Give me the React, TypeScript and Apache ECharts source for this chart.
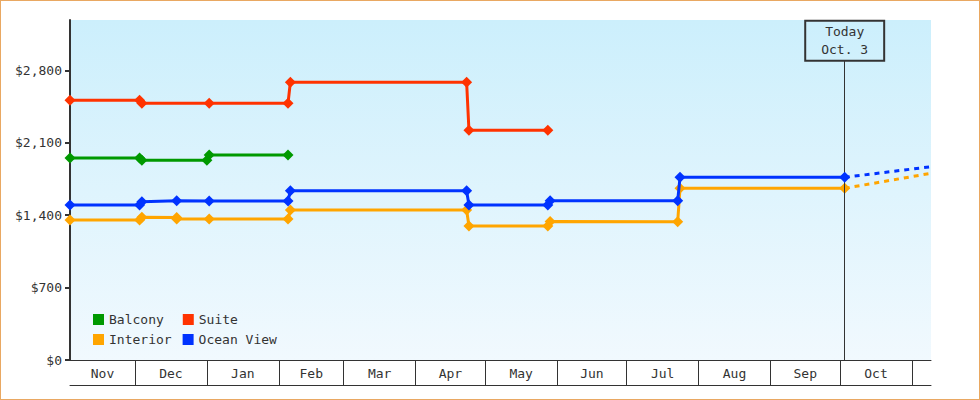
import React, { useEffect, useRef } from 'react';
import * as echarts from 'echarts';

// ---- data ----
const monthStarts = ['2022-11-01', '2022-12-01', '2023-01-01', '2023-02-01', '2023-03-01', '2023-04-01', '2023-05-01', '2023-06-01', '2023-07-01', '2023-08-01', '2023-09-01', '2023-10-01', '2023-11-01'];
const monthLabels = ['Nov', 'Dec', 'Jan', 'Feb', 'Mar', 'Apr', 'May', 'Jun', 'Jul', 'Aug', 'Sep', 'Oct'];
const axisStart = '2022-11-03';
const axisEnd = '2023-11-09T05';
const yTicks = [0, 700, 1400, 2100, 2800];
const yMax = 3287;

const balconyDates = ['2022-11-03', '2022-12-03', '2022-12-04', '2023-01-01', '2023-01-02', '2023-02-05'];
const balconyPrices = [1953, 1953, 1931, 1931, 1982, 1982];

const suiteDates = ['2022-11-03', '2022-12-03', '2022-12-04', '2023-01-02', '2023-02-05', '2023-02-06', '2023-04-23', '2023-04-24', '2023-05-28'];
const suitePrices = [2510, 2510, 2482, 2482, 2482, 2685, 2685, 2221, 2221];

const interiorDates = ['2022-11-03', '2022-12-03', '2022-12-04', '2022-12-19', '2022-12-19', '2023-01-02', '2023-02-05', '2023-02-06', '2023-04-23', '2023-04-24', '2023-05-28', '2023-05-29', '2023-07-23', '2023-07-24', '2023-10-03'];
const interiorPrices = [1354, 1354, 1380, 1377, 1363, 1363, 1363, 1450, 1450, 1296, 1296, 1340, 1337, 1660, 1660];

const oceanDates = ['2022-11-03', '2022-12-03', '2022-12-04', '2022-12-19', '2023-01-02', '2023-02-05', '2023-02-06', '2023-04-23', '2023-04-24', '2023-05-28', '2023-05-29', '2023-07-23', '2023-07-24', '2023-10-03'];
const oceanPrices = [1499, 1499, 1531, 1540, 1537, 1537, 1637, 1637, 1499, 1499, 1540, 1540, 1766, 1766];

const forecastDates = ['2023-10-03', '2023-11-09T05'];
const interiorForecast = [1660, 1805];
const oceanForecast = [1766, 1869];

const todayDate = '2023-10-03';
const todayText = 'Today\nOct. 3';
const todayBoxBottomValue = 2894;

// ---- helpers ----
const toTs = (s: string) => {
  const [d, t] = s.split('T');
  const [y, m, dd] = d.split('-').map(Number);
  const h = t ? Number(t.split(':')[0]) : 0;
  return Date.UTC(y, m - 1, dd, h);
};
const pairs = (dates: string[], vals: number[]) => dates.map((d, i) => [toTs(d), vals[i]]);

const FONT = 'DejaVu Sans Mono';
const INK = '#333333';
const COLORS = { balcony: '#009900', suite: '#ff3300', interior: '#ffa500', ocean: '#0033ff' };

export default function App() {
  const ref = useRef<HTMLDivElement>(null);

  useEffect(() => {
    if (!ref.current) return;
    const chart = echarts.init(ref.current, undefined, { renderer: 'svg' });
    const xMin = toTs(axisStart);
    const xMax = toTs(axisEnd);
    const starts = monthStarts.map(toTs);
    const tickVals = starts.filter((v) => v > xMin && v <= xMax);
    const labelVals = monthLabels.map((_, i) => (Math.max(starts[i], xMin) + Math.min(starts[i + 1], xMax)) / 2);
    const monthOf = (v: number) => {
      for (let i = 0; i < monthLabels.length; i++) if (v >= starts[i] && v < starts[i + 1]) return monthLabels[i];
      return '';
    };

    const lineSeries = (name: string, color: string, data: number[][], z: number) => ({
      name,
      type: 'line',
      data,
      color,
      z,
      symbol: 'diamond',
      symbolSize: 11,
      showSymbol: true,
      lineStyle: { width: 3, color },
      itemStyle: { color },
      emphasis: { disabled: true },
    });
    const dashSeries = (name: string, color: string, data: number[][], z: number) => ({
      name,
      type: 'line',
      data,
      z,
      showSymbol: false,
      symbol: 'none',
      lineStyle: { width: 3, color, type: [5, 5] },
      itemStyle: { color },
      emphasis: { disabled: true },
    });

    const ocean: any = lineSeries('Ocean View', COLORS.ocean, pairs(oceanDates, oceanPrices), 5);
    ocean.markLine = {
      silent: true,
      symbol: 'none',
      lineStyle: { color: INK, width: 1, type: 'solid' },
      label: {
        show: true,
        position: 'end',
        distance: 0,
        formatter: todayText,
        fontFamily: FONT,
        fontSize: 13,
        color: INK,
        lineHeight: 18,
        padding: [2, 16, 2, 16],
        borderColor: INK,
        borderWidth: 1,
        backgroundColor: 'transparent',
      },
      data: [[{ coord: [toTs(todayDate), 0] }, { coord: [toTs(todayDate), todayBoxBottomValue] }]],
    };

    const legendBase = {
      orient: 'horizontal',
      left: 93,
      padding: 0,
      icon: 'rect',
      itemWidth: 11,
      itemHeight: 11,
      selectedMode: false,
      textStyle: { fontFamily: FONT, fontSize: 13, color: INK },
    };

    chart.setOption({
      animation: false,
      backgroundColor: '#ffffff',
      grid: {
        left: 70,
        right: 49,
        top: 20,
        bottom: 40,
        show: true,
        borderWidth: 0,
        backgroundColor: {
          type: 'linear', x: 0, y: 0, x2: 0, y2: 1,
          colorStops: [
            { offset: 0, color: '#ccEFFC' },
            { offset: 1, color: '#f1f9fe' },
          ],
        },
      },
      legend: [
        { ...legendBase, top: 313, itemGap: 19, data: ['Balcony', 'Suite'] },
        { ...legendBase, top: 333, itemGap: 11, data: ['Interior', 'Ocean View'] },
      ],
      xAxis: [
        {
          type: 'value',
          min: xMin,
          max: xMax,
          position: 'bottom',
          splitLine: { show: false },
          axisLine: { show: true, lineStyle: { color: INK, width: 1 } },
          axisTick: { show: true, inside: false, length: 25, customValues: tickVals, lineStyle: { color: INK, width: 1 } },
          axisLabel: {
            show: true,
            customValues: labelVals,
            formatter: (v: number) => monthOf(v),
            fontFamily: FONT,
            fontSize: 13,
            color: INK,
            margin: 7,
          },
        },
        {
          type: 'value',
          min: xMin,
          max: xMax,
          position: 'bottom',
          offset: 25,
          splitLine: { show: false },
          axisLine: { show: true, lineStyle: { color: INK, width: 1 } },
          axisTick: { show: false },
          axisLabel: { show: false },
        },
      ],
      yAxis: {
        type: 'value',
        min: 0,
        max: yMax,
        splitLine: { show: false },
        axisLine: { show: true, lineStyle: { color: INK, width: 2 } },
        axisTick: { show: true, length: 5, customValues: yTicks, lineStyle: { color: INK, width: 2 } },
        axisLabel: {
          customValues: yTicks,
          formatter: (v: number) => '$' + v.toLocaleString('en-US'),
          fontFamily: FONT,
          fontSize: 13,
          color: INK,
          margin: 8,
        },
      },
      series: [
        lineSeries('Balcony', COLORS.balcony, pairs(balconyDates, balconyPrices), 2),
        lineSeries('Suite', COLORS.suite, pairs(suiteDates, suitePrices), 3),
        lineSeries('Interior', COLORS.interior, pairs(interiorDates, interiorPrices), 4),
        ocean,
        dashSeries('Interior forecast', COLORS.interior, pairs(forecastDates, interiorForecast), 4),
        dashSeries('Ocean View forecast', COLORS.ocean, pairs(forecastDates, oceanForecast), 5),
      ],
    });
    return () => chart.dispose();
  }, []);

  return (
    <div style={{ position: 'fixed', left: 0, top: 0, width: 980, height: 400 }}>
      <div ref={ref} style={{ position: 'absolute', left: 0, top: 0, width: 980, height: 400 }} />
      <div
        style={{
          position: 'absolute', left: 0, top: 0, width: 980, height: 400,
          boxSizing: 'border-box', border: '1px solid #e9a862', pointerEvents: 'none',
        }}
      />
    </div>
  );
}
